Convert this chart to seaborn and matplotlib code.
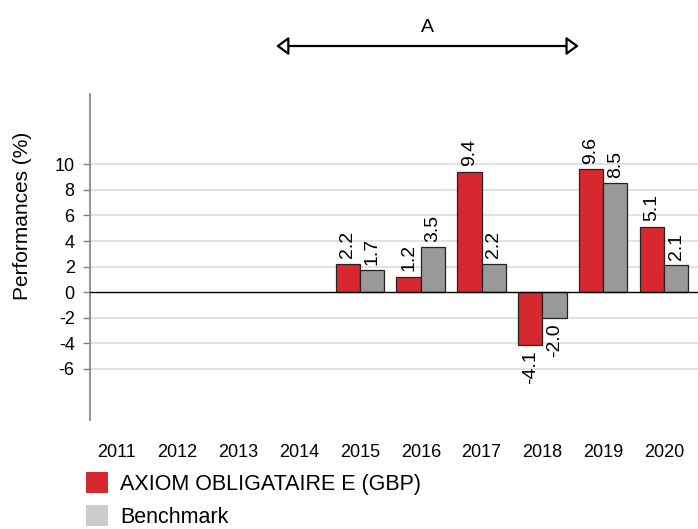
import numpy as np
import pandas as pd
import seaborn as sns
import matplotlib.pyplot as plt
from matplotlib.patches import Patch

# data
years = ['2011', '2012', '2013', '2014', '2015', '2016', '2017', '2018', '2019', '2020']
fund = [np.nan, np.nan, np.nan, np.nan, 2.2, 1.2, 9.4, -4.1, 9.6, 5.1]
benchmark = [np.nan, np.nan, np.nan, np.nan, 1.7, 3.5, 2.2, -2.0, 8.5, 2.1]
series_names = ['AXIOM OBLIGATAIRE E (GBP)', 'Benchmark']
y_ticks = [-6, -4, -2, 0, 2, 4, 6, 8, 10]

df = pd.DataFrame({
    'year': years * 2,
    'series': [series_names[0]] * len(years) + [series_names[1]] * len(years),
    'value': fund + benchmark,
})

sns.set_theme(style='white')
plt.rcParams['font.family'] = ['Liberation Sans', 'DejaVu Sans']
plt.rcParams['axes.unicode_minus'] = False
plt.rcParams['text.color'] = 'black'

red = '#D7282F'
grey_bar = '#999999'
grey_legend = '#CCCCCC'

fig = plt.figure(figsize=(6.98, 5.29), dpi=100)
ax = fig.add_axes([90 / 698, 1 - 420 / 529, 1 - 90 / 698, (420 - 94) / 529])

sns.barplot(data=df, x='year', y='value', hue='series', order=years,
            hue_order=series_names, palette=[red, grey_bar],
            errorbar=None, legend=False, edgecolor='#222222', linewidth=0.9,
            saturation=1, ax=ax)

for c in ax.containers:
    ax.bar_label(c, fmt='%.1f', rotation=90, padding=4, fontsize=14, color='black')

ax.set_xlim(-0.44, 9.56)
ax.set_ylim(-10, 15.5)
ax.set_yticks(y_ticks)
ax.set_yticklabels([str(t) for t in y_ticks])
for t in y_ticks:
    if t != 0:
        ax.axhline(t, color='#DDDDDD', linewidth=1.2, zorder=0)
ax.axhline(0, color='black', linewidth=1, zorder=3)

for s in ['top', 'right', 'bottom']:
    ax.spines[s].set_visible(False)
ax.spines['left'].set_color('#808080')
ax.spines['left'].set_linewidth(1.2)

ax.tick_params(axis='y', left=True, length=5, width=1, color='#808080',
               pad=6, labelsize=13, labelcolor='black')
ax.tick_params(axis='x', bottom=False, pad=11, labelsize=13, labelcolor='black')
ax.set_xlabel('')
ax.set_ylabel('')
fig.text(23 / 698, 1 - 216 / 529, 'Performances (%)', rotation=90,
         ha='center', va='center', fontsize=15, color='black')

# period arrow
arrow_y = 1 - 46 / 529
ax.annotate('', xy=(7.6, arrow_y), xytext=(2.62, arrow_y),
            xycoords=('data', 'figure fraction'),
            textcoords=('data', 'figure fraction'),
            arrowprops=dict(arrowstyle='<|-|>,head_length=0.75,head_width=0.55',
                            mutation_scale=10, fc='white', ec='black',
                            lw=1.6, shrinkA=0, shrinkB=0))
ax.annotate('A', xy=(5.11, 1 - 28 / 529), xycoords=('data', 'figure fraction'),
            ha='center', va='center', fontsize=14, color='black',
            annotation_clip=False)

handles = [Patch(facecolor=red, edgecolor='none'),
           Patch(facecolor=grey_legend, edgecolor='none')]
leg = fig.legend(handles, series_names, loc='upper left',
                 bbox_to_anchor=(86 / 698, 1 - 472 / 529), frameon=False,
                 borderpad=0, borderaxespad=0, handlelength=1.0, handleheight=1.1,
                 handletextpad=0.6, labelspacing=0.5, fontsize=15.5)
for txt in leg.get_texts():
    txt.set_color('black')

fig.savefig('out.png', dpi=100)
